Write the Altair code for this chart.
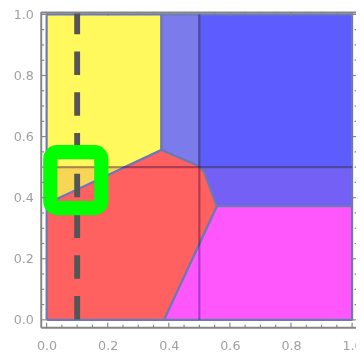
import altair as alt
import pandas as pd

# ---------------- data ----------------
yellow_x = [0.0, 0.376, 0.376, 0.0]
yellow_y = [0.38, 0.556, 1.0, 1.0]

orange_x = [0.0, 0.25, 0.0]
orange_y = [0.38, 0.5, 0.5]

lavender_x = [0.376, 0.5, 0.5, 0.376]
lavender_y = [0.556, 0.5, 1.0, 1.0]

blue_x = [0.5, 1.0, 1.0, 0.5]
blue_y = [0.5, 0.5, 1.0, 1.0]

purple_x = [0.5, 1.0, 1.0, 0.557, 0.515]
purple_y = [0.5, 0.5, 0.372, 0.372, 0.485]

magenta_x = [0.384, 1.0, 1.0, 0.557]
magenta_y = [0.0, 0.0, 0.372, 0.372]

red_x = [0.0, 0.384, 0.557, 0.515, 0.5, 0.376, 0.0]
red_y = [0.0, 0.0, 0.372, 0.485, 0.503, 0.556, 0.38]

hline_y = [0.5]          # horizontal mesh line
vline_x = [0.5]          # vertical mesh line
dash_x = [0.1]           # dashed marker line
box_x = [0.012, 0.179]   # green highlight box
box_y = [0.366, 0.549]

tick_labels = [0.0, 0.2, 0.4, 0.6, 0.8, 1.0]
minor_ticks = [0.05, 0.1, 0.15, 0.25, 0.3, 0.35, 0.45, 0.5, 0.55,
               0.65, 0.7, 0.75, 0.85, 0.9, 0.95]

# ---------------- layout ----------------
W, H = 322, 323
XMIN, XMAX = -0.0176, 1.0128
YMIN, YMAX = -0.0256, 1.008
FRAME = "#858585"
EDGE = "#6d78b6"

xs = alt.Scale(domain=[XMIN, XMAX], nice=False, zero=False)
ys = alt.Scale(domain=[YMIN, YMAX], nice=False, zero=False)
xaxis = alt.Axis(values=tick_labels, format=".1f", ticks=False, domain=False,
                 grid=False, title=None, labelColor="#a0a0a0", labelFontSize=13,
                 labelFont="DejaVu Sans", labelPadding=12, labelFlush=False)
yaxis = alt.Axis(values=tick_labels, format=".1f", ticks=False, domain=False,
                 grid=False, title=None, labelColor="#a0a0a0", labelFontSize=13,
                 labelFont="DejaVu Sans", labelPadding=8, labelFlush=False)


def poly(px, py, fill, stroke=True):
    df = pd.DataFrame({"x": px + [px[0]], "y": py + [py[0]],
                       "o": list(range(len(px) + 1))})
    kw = dict(fill=fill, strokeWidth=2.2, stroke=EDGE if stroke else fill,
              strokeJoin="round")
    if not stroke:
        kw["strokeWidth"] = 0
    return alt.Chart(df).mark_line(**kw).encode(
        x=alt.X("x:Q", scale=xs, axis=xaxis),
        y=alt.Y("y:Q", scale=ys, axis=yaxis),
        order="o:Q",
    )


layers = [
    poly(yellow_x, yellow_y, "#fff95e"),
    poly(orange_x, orange_y, "#f7d655", stroke=False),
    poly(lavender_x, lavender_y, "#7b7bec"),
    poly(blue_x, blue_y, "#5c5cff"),
    poly(purple_x, purple_y, "#7560f6"),
    poly(magenta_x, magenta_y, "#ff57fb"),
    poly(red_x, red_y, "#ff6060"),
]

MESH = "#b399d6"
hl = alt.Chart(pd.DataFrame({"y": hline_y, "x": [0.0], "x2": [1.0]})).mark_rule(
    color=MESH, strokeWidth=2.2, blend="multiply").encode(
    y=alt.Y("y:Q", scale=ys, axis=yaxis), x=alt.X("x:Q", scale=xs, axis=xaxis), x2="x2:Q")
vl = alt.Chart(pd.DataFrame({"x": vline_x, "y": [0.0], "y2": [1.0]})).mark_rule(
    color=MESH, strokeWidth=2.2, blend="multiply").encode(
    x=alt.X("x:Q", scale=xs, axis=xaxis), y=alt.Y("y:Q", scale=ys, axis=yaxis), y2="y2:Q")

dash = alt.Chart(pd.DataFrame({"x": dash_x, "y": [YMAX], "y2": [0.0]})).mark_rule(
    color="#555555", strokeWidth=6, strokeDash=[24, 17.7], strokeDashOffset=1.3).encode(
    x=alt.X("x:Q", scale=xs, axis=xaxis), y=alt.Y("y:Q", scale=ys, axis=yaxis), y2="y2:Q")

box = alt.Chart(pd.DataFrame({"x": [box_x[0]], "x2": [box_x[1]],
                              "y": [box_y[0]], "y2": [box_y[1]]})).mark_rect(
    fillOpacity=0, stroke="#00ff00", strokeWidth=14.5, cornerRadius=7).encode(
    x=alt.X("x:Q", scale=xs, axis=xaxis), x2="x2:Q",
    y=alt.Y("y:Q", scale=ys, axis=yaxis), y2="y2:Q")

# frame
frame_df = pd.DataFrame({"k": [0]})
frame = [
    alt.Chart(frame_df).mark_rule(color=FRAME, strokeWidth=2).encode(
        x=alt.value(0), y=alt.value(0), y2=alt.value(H)),
    alt.Chart(frame_df).mark_rule(color=FRAME, strokeWidth=2).encode(
        x=alt.value(0), x2=alt.value(W), y=alt.value(H)),
    alt.Chart(frame_df).mark_rule(color=FRAME, strokeWidth=2).encode(
        x=alt.value(0), x2=alt.value(W), y=alt.value(0.5)),
    alt.Chart(frame_df).mark_rule(color=FRAME, strokeWidth=2).encode(
        x=alt.value(W + 1.5), y=alt.value(0), y2=alt.value(H)),
]


def tick_layers(vals, L):
    d = pd.DataFrame({"v": vals})
    base = alt.Chart(d).mark_rule(color=FRAME, strokeWidth=1.2)
    return [
        base.encode(x=alt.X("v:Q", scale=xs, axis=xaxis), y=alt.value(H), y2=alt.value(H - L)),
        base.encode(x=alt.X("v:Q", scale=xs, axis=xaxis), y=alt.value(0), y2=alt.value(L - 1)),
        base.encode(y=alt.Y("v:Q", scale=ys, axis=yaxis), x=alt.value(0), x2=alt.value(L)),
        base.encode(y=alt.Y("v:Q", scale=ys, axis=yaxis), x=alt.value(W + 1.5), x2=alt.value(W + 1.5 - L)),
    ]


ticks = tick_layers(tick_labels, 5) + tick_layers(minor_ticks, 3)

chart = alt.layer(*layers, hl, vl, dash, box, *frame, *ticks).properties(
    width=W, height=H,
    autosize=alt.AutoSizeParams(type="none"),
    padding={"left": 34, "top": 0, "right": 0, "bottom": 28},
).configure_view(stroke=None)

chart.save("out.html", embed_options={"renderer": "svg", "actions": False})
